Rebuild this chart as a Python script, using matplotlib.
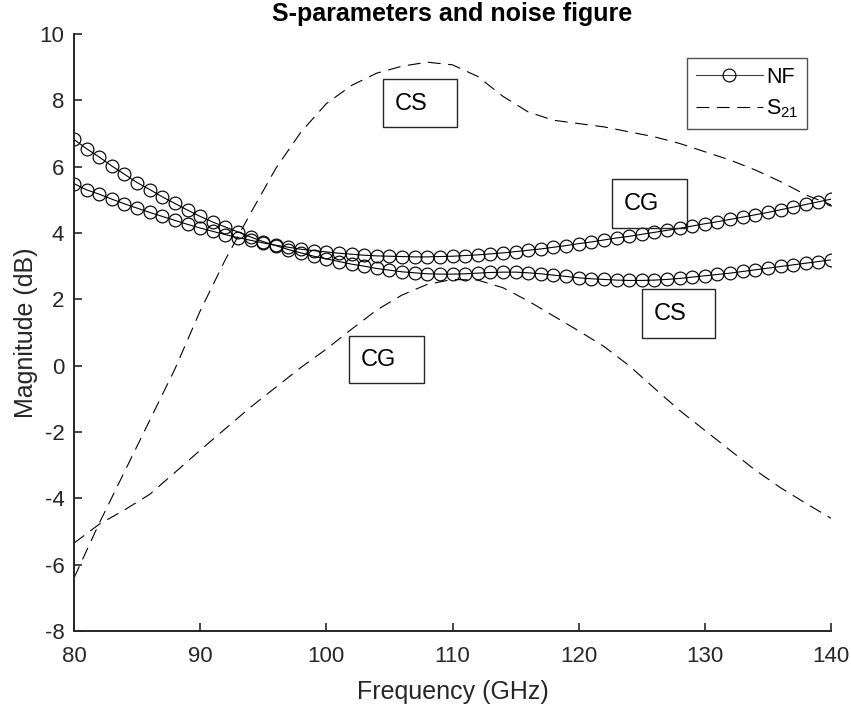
import numpy as np
import matplotlib
matplotlib.use("Agg")
import matplotlib.pyplot as plt
from matplotlib.patches import Rectangle
from matplotlib.lines import Line2D

plt.rcParams['font.family'] = ['Liberation Sans', 'DejaVu Sans']
plt.rcParams['axes.unicode_minus'] = False
plt.rcParams['mathtext.fontset'] = 'custom'
plt.rcParams['mathtext.rm'] = 'Liberation Sans'

# ---- data ----
freq_nf = np.arange(80, 141, 1)
nf_cs = [6.82, 6.54, 6.29, 6.02, 5.77, 5.52, 5.31, 5.09, 4.89, 4.69,
         4.50, 4.33, 4.18, 4.03, 3.88, 3.74, 3.62, 3.50, 3.40, 3.30,
         3.22, 3.14, 3.06, 3.00, 2.93, 2.88, 2.83, 2.80, 2.77, 2.76,
         2.76, 2.77, 2.79, 2.81, 2.82, 2.82, 2.80, 2.77, 2.73, 2.69,
         2.65, 2.62, 2.60, 2.58, 2.57, 2.57, 2.58, 2.60, 2.63, 2.67,
         2.71, 2.75, 2.79, 2.84, 2.89, 2.94, 2.99, 3.04, 3.09, 3.14, 3.19]
nf_cg = [5.49, 5.30, 5.17, 5.02, 4.88, 4.75, 4.62, 4.50, 4.38, 4.26,
         4.15, 4.05, 3.95, 3.86, 3.78, 3.70, 3.63, 3.57, 3.51, 3.47,
         3.43, 3.39, 3.36, 3.33, 3.31, 3.30, 3.29, 3.28, 3.28, 3.29,
         3.30, 3.32, 3.34, 3.37, 3.40, 3.44, 3.48, 3.52, 3.57, 3.62,
         3.68, 3.73, 3.79, 3.85, 3.90, 3.96, 4.02, 4.08, 4.14, 4.21,
         4.28, 4.34, 4.41, 4.48, 4.55, 4.62, 4.70, 4.78, 4.86, 4.94, 5.02]

freq_s21 = np.arange(80, 141, 2)
s21_cs = [-6.40, -4.75, -3.20, -1.65, -0.10, 1.65, 3.20, 4.60, 5.95, 7.05,
          7.90, 8.45, 8.82, 9.03, 9.15, 9.07, 8.72, 8.12, 7.65, 7.40,
          7.30, 7.20, 7.05, 6.90, 6.70, 6.45, 6.20, 5.90, 5.55, 5.15, 4.85]
s21_cg = [-5.35, -4.78, -4.35, -3.88, -3.22, -2.55, -1.90, -1.25, -0.65, -0.05,
          0.50, 1.10, 1.68, 2.13, 2.45, 2.60, 2.58, 2.35, 1.95, 1.50,
          1.05, 0.58, 0.00, -0.68, -1.35, -1.95, -2.55, -3.15, -3.68, -4.15, -4.60]

xticks = [80, 90, 100, 110, 120, 130, 140]
yticks = [-8, -6, -4, -2, 0, 2, 4, 6, 8, 10]

W, H = 851, 707
fig = plt.figure(figsize=(W / 100, H / 100), dpi=100)
ax = fig.add_axes([74 / W, 1 - 631 / H, (831 - 74) / W, (631 - 34) / H])

ink = '#262626'
lw = 0.8
dash = (0, (11.5, 6.8))
mk = dict(marker='o', markersize=9.2, markerfacecolor='none',
          markeredgecolor='black', markeredgewidth=0.85)

ax.plot(freq_nf, nf_cs, color='black', lw=lw, **mk)
ax.plot(freq_nf, nf_cg, color='black', lw=lw, **mk)
ax.plot(freq_s21, s21_cs, color='black', lw=lw, linestyle=dash)
ax.plot(freq_s21, s21_cg, color='black', lw=lw, linestyle=dash)

ax.set_xlim(80, 140)
ax.set_ylim(-8, 10)
ax.set_xticks(xticks)
ax.set_yticks(yticks)
ax.spines['top'].set_visible(False)
ax.spines['right'].set_visible(False)
for s in ('left', 'bottom'):
    ax.spines[s].set_linewidth(1.4)
    ax.spines[s].set_color(ink)
ax.tick_params(direction='in', length=6, width=1.2, labelsize=16,
               colors=ink)
ax.tick_params(axis='x', pad=11)
ax.tick_params(axis='y', pad=7)

ax.set_xlabel('Frequency (GHz)', fontsize=18, color=ink, labelpad=9)
ax.set_ylabel('Magnitude (dB)', fontsize=18, color=ink, labelpad=1)
ax.set_title('S-parameters and noise figure', fontsize=18, fontweight='bold',
             pad=9, color='black')

# legend
h_nf = Line2D([], [], color='#404040', lw=lw, marker='o', markersize=9.2,
              markerfacecolor='none', markeredgecolor='black', markeredgewidth=0.85)
h_s21 = Line2D([], [], color='black', lw=lw, linestyle=dash)
leg = ax.legend([h_nf, h_s21], ['NF', r'S$_{\mathregular{21}}$'], loc='upper right',
                bbox_to_anchor=(807 / W, 1 - 58 / H), bbox_transform=fig.transFigure,
                fontsize=15.5, frameon=True, fancybox=False, numpoints=1,
                handlelength=3.1, handletextpad=0.15, borderpad=0.4,
                labelspacing=0.45, borderaxespad=0)
leg.get_frame().set_edgecolor(ink)
leg.get_frame().set_linewidth(1.0)

# annotation boxes (pixel positions -> figure fraction)
boxes = [
    ("CS", 383, 79, 457, 127),
    ("CG", 612, 179, 687, 228),
    ("CS", 642, 289, 715, 338),
    ("CG", 349, 336, 424, 383),
]
for txt, x0, y0, x1, y1 in boxes:
    fig.add_artist(Rectangle((x0 / W, 1 - y1 / H), (x1 - x0) / W, (y1 - y0) / H,
                             transform=fig.transFigure, fill=False,
                             edgecolor=ink, lw=1.0))
    fig.text((x0 + 12) / W, 1 - ((y0 + y1) / 2 + 1) / H, txt, fontsize=17,
             ha='left', va='center', color='black')

fig.savefig('out.png', dpi=100)
